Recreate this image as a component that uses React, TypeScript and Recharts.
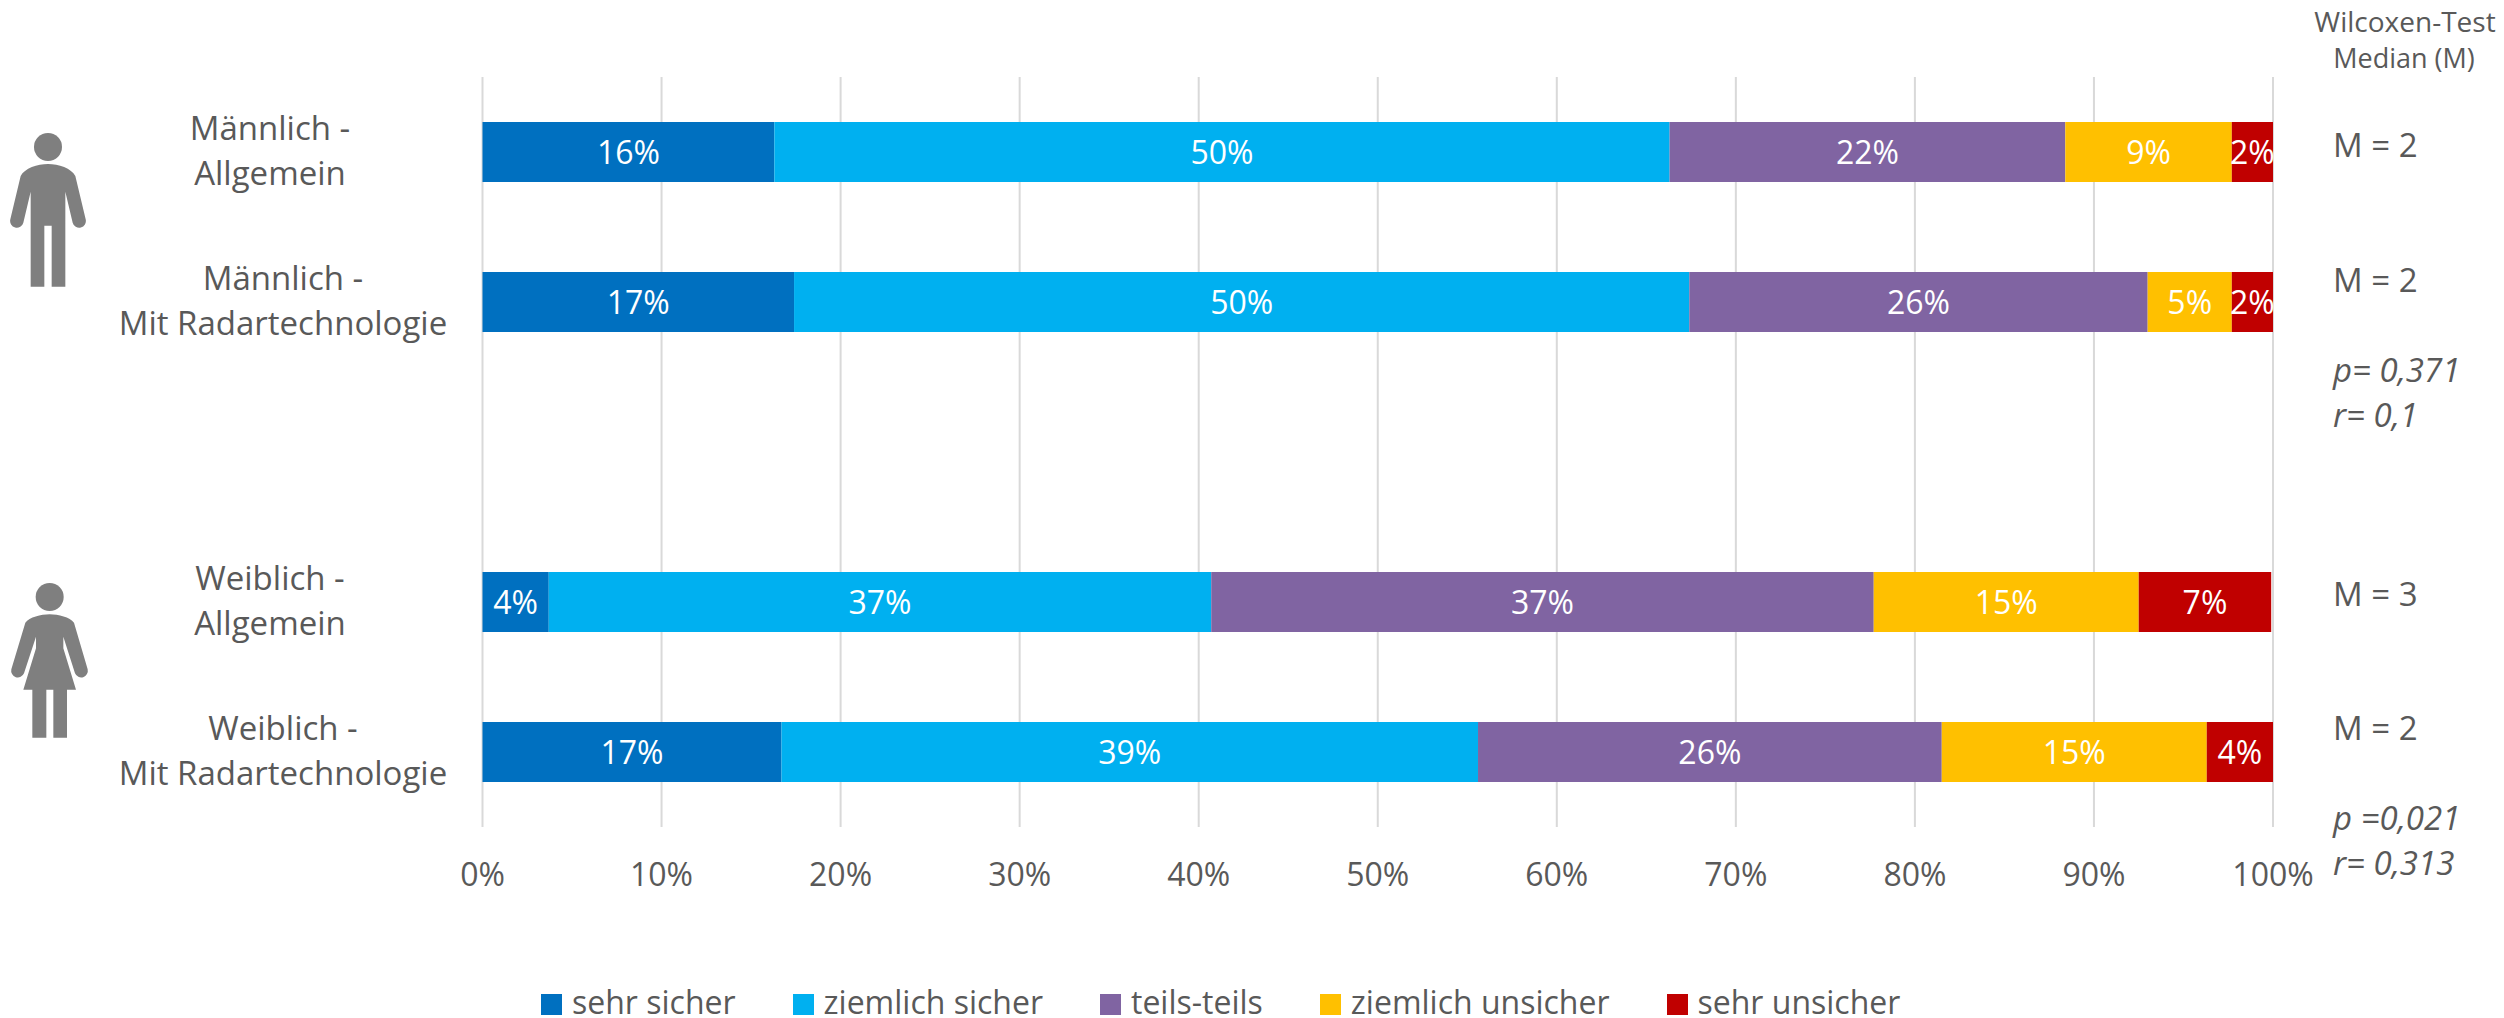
import React from 'react';
import { BarChart, Bar, XAxis, YAxis, CartesianGrid, Legend, LabelList } from 'recharts';

const FONT = '"Open Sans", sans-serif';
const TEXT = '#595959';

const categories = ['Männlich -\nAllgemein', 'Männlich -\nMit Radartechnologie', '', 'Weiblich -\nAllgemein', 'Weiblich -\nMit Radartechnologie'];
const sehrSicher = [16.3, 17.4, null, 3.7, 16.7];
const ziemlichSicher = [50, 50, null, 37, 38.9];
const teilsTeils = [22.1, 25.6, null, 37, 25.9];
const ziemlichUnsicher = [9.3, 4.7, null, 14.8, 14.8];
const sehrUnsicher = [2.3, 2.3, null, 7.4, 3.7];
const xTicks = [0, 10, 20, 30, 40, 50, 60, 70, 80, 90, 100];

const seriesNames = ['sehr sicher', 'ziemlich sicher', 'teils-teils', 'ziemlich unsicher', 'sehr unsicher'];
const seriesValues = [sehrSicher, ziemlichSicher, teilsTeils, ziemlichUnsicher, sehrUnsicher];
const COLORS = ['#0070C0', '#00B0F0', '#8064A2', '#FFC000', '#C00000'];

const medians = ['M = 2', 'M = 2', 'M = 3', 'M = 2'];
const medianBaselines = [157, 292, 606, 740];
const testNotes = [
  { lines: ['p= 0,371', 'r= 0,1'], y: 382 },
  { lines: ['p =0,021', 'r= 0,313'], y: 830 },
];

const chartData = categories.map((category, i) => {
  const row: Record<string, any> = { category };
  seriesNames.forEach((name, s) => {
    row[name] = seriesValues[s][i];
  });
  return row;
});

const CategoryTick = ({ y, payload }: any) => {
  if (!payload.value) return null;
  const lines = payload.value.split('\n');
  // the two-line labels are centred on their own text block, the long ones sit further right
  const cx = lines[1].length > 12 ? 283 : 270;
  return (
    <text x={cx} y={y} textAnchor="middle" fill={TEXT} fontFamily={FONT} fontSize={33}>
      <tspan x={cx} y={y - 12}>{lines[0]}</tspan>
      <tspan x={cx} y={y + 33}>{lines[1]}</tspan>
    </text>
  );
};

const LegendContent = ({ payload }: any) => (
  <div style={{ display: 'flex', gap: 57, fontFamily: FONT, fontSize: 32, color: TEXT, lineHeight: '32px', whiteSpace: 'nowrap' }}>
    {(payload || []).map((item: any) => (
      <div key={item.value} style={{ display: 'flex', alignItems: 'center' }}>
        <span style={{ width: 21, height: 21, background: item.color, marginRight: 10, display: 'inline-block', position: 'relative', top: 2 }} />
        {item.value}
      </div>
    ))}
  </div>
);

// pictograms, traced in a 3x coordinate space
const ManIcon = () => (
  <svg style={{ position: 'absolute', left: 0, top: 60 }} width={520} height={300} viewBox="0 0 1560 900">
    <g fill="#7F7F7F">
      <circle cx={144} cy={261} r={42} />
      <path d="M144 312 C175 312 215 325 226 348 L257 478 A20 20 0 0 1 218 488 L196 395 L196 680 L155 680 L155 497 L133 497 L133 680 L92 680 L92 395 L70 488 A20 20 0 0 1 31 478 L62 348 C73 325 113 312 144 312 Z" />
    </g>
  </svg>
);

const WomanIcon = () => (
  <svg style={{ position: 'absolute', left: 0, top: 540 }} width={520} height={300} viewBox="0 0 1560 900">
    <g fill="#7F7F7F">
      <circle cx={149} cy={171} r={42} />
      <path d="M149 223 C175 223 210 232 222 248 L263 388 A20 20 0 0 1 225 400 L190 290 L190 325 L228 449 L201 449 L201 593 L160 593 L160 449 L139 449 L139 593 L97 593 L97 449 L70 449 L108 325 L108 290 L72 400 A20 20 0 0 1 34 388 L76 248 C88 232 123 223 149 223 Z" />
    </g>
  </svg>
);

export default function App() {
  return (
    <div style={{ position: 'absolute', left: 0, top: 0, width: 2504, height: 1018, overflow: 'hidden', background: '#fff' }}>
      <BarChart
        width={2504}
        height={1018}
        data={chartData}
        layout="vertical"
        margin={{ top: 77, right: 231, bottom: 99, left: 0 }}
      >
        <CartesianGrid horizontal={false} stroke="#D9D9D9" strokeWidth={2} />
        <XAxis
          type="number"
          domain={[0, 100]}
          ticks={xTicks}
          interval={0}
          height={60}
          axisLine={false}
          tickLine={false}
          tickSize={0}
          tickMargin={36}
          tickFormatter={(v: number) => `${v}%`}
          tick={{ fill: TEXT, fontFamily: FONT, fontSize: 32 }}
        />
        <YAxis
          type="category"
          dataKey="category"
          width={482.5}
          axisLine={false}
          tickLine={false}
          interval={0}
          tick={<CategoryTick />}
        />
        <Legend
          verticalAlign="bottom"
          itemSorter={null}
          content={<LegendContent />}
          wrapperStyle={{ position: 'absolute', left: 541, top: 986, width: 'auto', bottom: 'auto' }}
        />
        {seriesNames.map((name, s) => (
          <Bar key={name} dataKey={name} stackId="a" fill={COLORS[s]} barSize={60} isAnimationActive={false}>
            <LabelList
              dataKey={name}
              position="center"
              fill="#fff"
              fontFamily={FONT}
              fontSize={32}
              dy={1}
              formatter={(v: any) => (v == null ? '' : `${Math.round(v)}%`)}
            />
          </Bar>
        ))}
      </BarChart>

      <ManIcon />
      <WomanIcon />

      <svg style={{ position: 'absolute', left: 0, top: 0, pointerEvents: 'none' }} width={2504} height={1018}>
        <g fontFamily={FONT} fill={TEXT}>
          <text x={2405} y={32} textAnchor="middle" fontSize={28}>Wilcoxen-Test</text>
          <text x={2404} y={68} textAnchor="middle" fontSize={27}>Median (M)</text>
          {medians.map((m, i) => (
            <text key={i} x={2333} y={medianBaselines[i]} fontSize={33}>{m}</text>
          ))}
          {testNotes.map((note) =>
            note.lines.map((line, i) => (
              <text key={line} x={2333} y={note.y + i * 45} fontSize={33} fontStyle="italic">{line}</text>
            ))
          )}
        </g>
      </svg>
    </div>
  );
}
